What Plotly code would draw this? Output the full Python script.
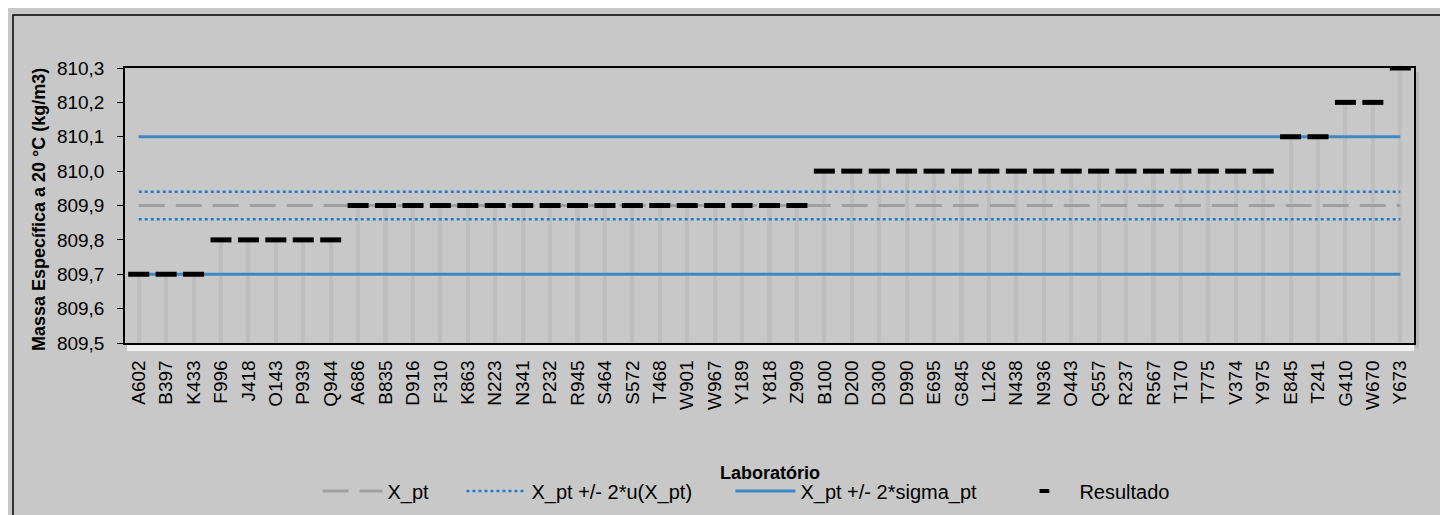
import plotly.graph_objects as go

labs = ["A602","B397","K433","F996","J418","O143","P939","Q944","A686","B835","D916","F310",
        "K863","N223","N341","P232","R945","S464","S572","T468","W901","W967","Y189","Y818",
        "Z909","B100","D200","D300","D990","E695","G845","L126","N438","N936","O443","Q557",
        "R237","R567","T170","T775","V374","Y975","E845","T241","G410","W670","Y673"]
resultado = [809.7]*3 + [809.8]*5 + [809.9]*17 + [810.0]*17 + [810.1]*2 + [810.2]*2 + [810.3]
x_pt = 809.9
u_lo, u_hi = 809.86, 809.94
s_lo, s_hi = 809.7, 810.1
y_min, y_max = 809.5, 810.3

W, H = 1448, 515
L, R, T, B = 117, 42, 60, 180
pw, ph = W - L - R, H - T - B

def px(x):
    return (x - L) / pw

def py(y):
    return 1 - (y - T) / ph

xs = list(range(len(labs)))
FONT = "Liberation Sans, Arial, sans-serif"
NB = "\u00a0"

fig = go.Figure()
# drop lines
fig.add_trace(go.Bar(x=xs, y=[v - y_min for v in resultado], base=y_min, width=0.15,
                     marker=dict(color="#BEBEBE", line=dict(width=0)), showlegend=False,
                     hoverinfo="skip"))
fig.add_trace(go.Scatter(x=xs, y=[x_pt]*len(xs), mode="lines", name="X_pt" + NB*5,
                         line=dict(color="#A0A0A0", width=3, dash="26px,11px")))
fig.add_trace(go.Scatter(x=xs, y=[u_hi]*len(xs), mode="lines",
                         name="X_pt +/- 2*u(X_pt)" + NB*6,
                         legendgroup="u", line=dict(color="#1E7BD0", width=2.5, dash="dot")))
fig.add_trace(go.Scatter(x=xs, y=[u_lo]*len(xs), mode="lines", showlegend=False,
                         legendgroup="u", line=dict(color="#1E7BD0", width=2.5, dash="dot")))
fig.add_trace(go.Scatter(x=xs, y=[s_hi]*len(xs), mode="lines",
                         name="X_pt +/- 2*sigma_pt" + NB*5,
                         legendgroup="s", line=dict(color="#3F88C5", width=3)))
fig.add_trace(go.Scatter(x=xs, y=[s_lo]*len(xs), mode="lines", showlegend=False,
                         legendgroup="s", line=dict(color="#3F88C5", width=3)))
fig.add_trace(go.Scatter(x=xs, y=resultado, mode="markers", showlegend=False,
                         legendgroup="r",
                         marker=dict(symbol="line-ew", size=15, color="black",
                                     line=dict(color="black", width=5))))
# legend-only entry with the small legend glyph
fig.add_trace(go.Scatter(x=[None], y=[None], mode="markers", name="Resultado",
                         legendgroup="r",
                         marker=dict(symbol="line-ew", size=7, color="black",
                                     line=dict(color="black", width=4))))

fig.update_layout(
    width=W, height=H,
    margin=dict(l=L, r=R, t=T, b=B),
    paper_bgcolor="#C8C8C8", plot_bgcolor="#C8C8C8",
    separators=",.",
    font=dict(family=FONT, size=19, color="black"),
    bargap=0,
    showlegend=True,
    legend=dict(orientation="h", x=px(738), xanchor="center", y=py(483), yanchor="middle",
                font=dict(size=20), bgcolor="rgba(0,0,0,0)", itemwidth=60,
                tracegroupgap=0),
    xaxis=dict(range=[-0.5, len(labs) - 0.5], tickmode="array", tickvals=xs, ticktext=labs,
               tickangle=-90, showgrid=False, zeroline=False, showline=True,
               linecolor="black", linewidth=1.5, mirror=True, ticks="",
               ticklabelstandoff=8, tickfont=dict(size=19)),
    yaxis=dict(range=[y_min, y_max], dtick=0.1, tickformat=".1f", showgrid=False,
               zeroline=False, showline=True, linecolor="black", linewidth=1.5, mirror=True,
               ticks="outside", ticklen=6, tickcolor="black", tickfont=dict(size=19),
               ticklabelstandoff=9),
    annotations=[
        dict(text="<b>Laboratório</b>", x=0.5, y=py(465), xref="paper", yref="paper",
             showarrow=False, font=dict(size=18), xanchor="center", yanchor="middle"),
        dict(text="<b>Massa Específica a 20 °C (kg/m3)</b>", x=px(31), y=py(202),
             xref="paper", yref="paper", showarrow=False, textangle=-90,
             font=dict(size=18), xanchor="center", yanchor="middle"),
    ],
    shapes=[
        dict(type="rect", xref="paper", yref="paper", x0=px(5), x1=px(1443),
             y0=py(510), y1=py(7), line=dict(color="black", width=1.5), layer="below"),
        dict(type="rect", xref="paper", yref="paper", x0=px(119), x1=px(1406),
             y0=py(343), y1=py(336), fillcolor="rgba(255,255,255,0.75)",
             line=dict(width=0), layer="below"),
        dict(type="rect", xref="paper", yref="paper", x0=px(1407), x1=px(1411),
             y0=py(340), y1=py(64), fillcolor="rgba(0,0,0,0.08)",
             line=dict(width=0), layer="below"),
    ],
)

fig.write_html("out.html")
